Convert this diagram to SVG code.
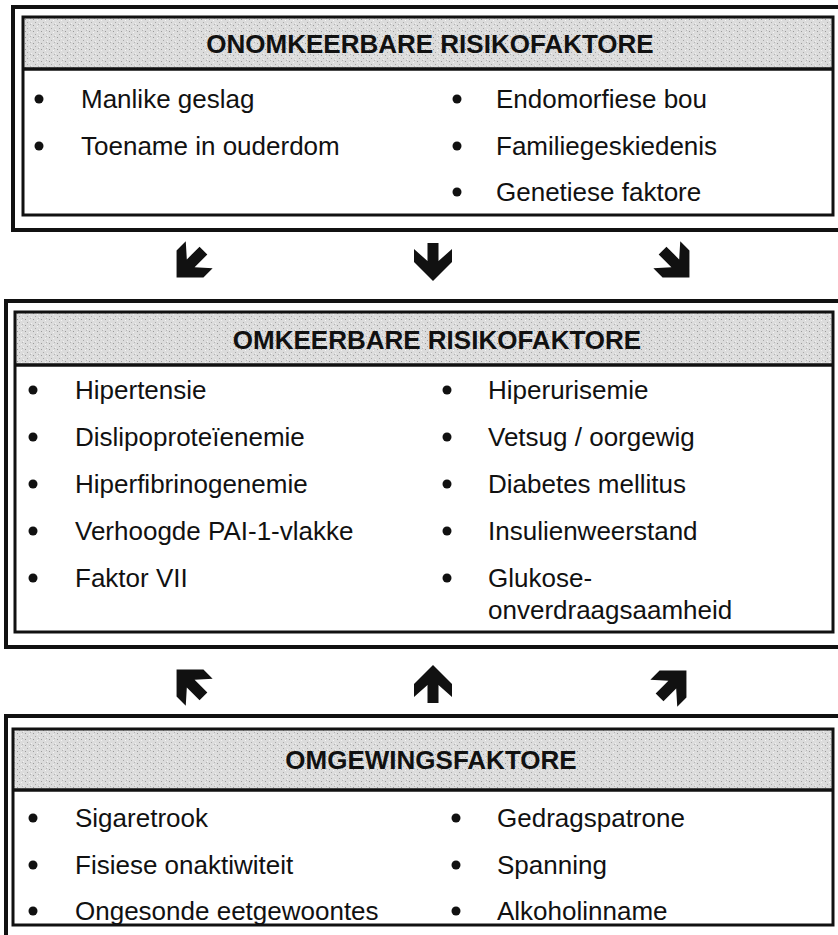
<svg xmlns="http://www.w3.org/2000/svg" width="838" height="935" viewBox="0 0 838 935">
  <style>
    .outer { fill: none; stroke: #111; stroke-width: 4; }
    .inner { fill: none; stroke: #111; stroke-width: 3; }
    .rule { stroke: #111; stroke-width: 3.5; }
    .band { fill: url(#stipple); }
    .head { font-family: "Liberation Sans", Arial, sans-serif; font-weight: bold; font-size: 26px; fill: #111; text-anchor: middle; }
    .item { font-family: "Liberation Sans", Arial, sans-serif; font-size: 26px; fill: #111; }
    .dot { fill: #111; }
    .arrow { fill: #111; }
  </style>
  <defs>
    <!-- halftone-like grey fill for the title bands -->
    <pattern id="stipple" width="8" height="6" patternUnits="userSpaceOnUse">
      <rect width="8" height="6" fill="#dcdcdc"/>
      <rect x="1" y="1" width="1" height="1" fill="#9a9a9a"/>
      <rect x="5" y="2" width="1" height="1" fill="#f4f4f4"/>
      <rect x="3" y="4" width="1" height="1" fill="#a8a8a8"/>
      <rect x="7" y="5" width="1" height="1" fill="#f0f0f0"/>
      <rect x="6" y="0" width="1" height="1" fill="#b5b5b5"/>
    </pattern>
    <!-- bold block arrow pointing down, centred on the origin -->
    <polygon id="blockArrow" points="-5.5,-19 5.5,-19 5.5,-1 19,-13 19,0 0,19 -19,0 -19,-13 -5.5,-1"/>
  </defs>

  <rect width="838" height="935" fill="#fff"/>

  <!-- Top box -->
  <g id="onomkeerbare">
    <rect class="outer" x="13" y="7" width="832" height="223"/>
    <rect class="band" x="23" y="17" width="810" height="52"/>
    <rect class="inner" x="23" y="17" width="810" height="198"/>
    <line class="rule" x1="23" y1="69" x2="833" y2="69"/>
    <text class="head" x="430" y="53">ONOMKEERBARE RISIKOFAKTORE</text>
    <circle class="dot" cx="39" cy="99" r="4.5"/>
    <text class="item" x="81" y="108">Manlike geslag</text>
    <circle class="dot" cx="39" cy="146" r="4.5"/>
    <text class="item" x="81" y="155">Toename in ouderdom</text>
    <circle class="dot" cx="457" cy="99" r="4.5"/>
    <text class="item" x="496" y="108">Endomorfiese bou</text>
    <circle class="dot" cx="457" cy="146" r="4.5"/>
    <text class="item" x="496" y="155">Familiegeskiedenis</text>
    <circle class="dot" cx="457" cy="192" r="4.5"/>
    <text class="item" x="496" y="201">Genetiese faktore</text>
  </g>

  <!-- Middle box -->
  <g id="omkeerbare">
    <rect class="outer" x="6" y="301" width="839" height="346"/>
    <rect class="band" x="15" y="312" width="818" height="53"/>
    <rect class="inner" x="15" y="312" width="818" height="320"/>
    <line class="rule" x1="15" y1="365" x2="833" y2="365"/>
    <text class="head" x="437" y="349">OMKEERBARE RISIKOFAKTORE</text>
    <circle class="dot" cx="33" cy="390" r="4.5"/>
    <text class="item" x="75" y="399">Hipertensie</text>
    <circle class="dot" cx="33" cy="437" r="4.5"/>
    <text class="item" x="75" y="446">Dislipoproteïenemie</text>
    <circle class="dot" cx="33" cy="484" r="4.5"/>
    <text class="item" x="75" y="493">Hiperfibrinogenemie</text>
    <circle class="dot" cx="33" cy="531" r="4.5"/>
    <text class="item" x="75" y="540">Verhoogde PAI-1-vlakke</text>
    <circle class="dot" cx="33" cy="578" r="4.5"/>
    <text class="item" x="75" y="587">Faktor VII</text>
    <circle class="dot" cx="447" cy="390" r="4.5"/>
    <text class="item" x="488" y="399">Hiperurisemie</text>
    <circle class="dot" cx="447" cy="437" r="4.5"/>
    <text class="item" x="488" y="446">Vetsug / oorgewig</text>
    <circle class="dot" cx="447" cy="484" r="4.5"/>
    <text class="item" x="488" y="493">Diabetes mellitus</text>
    <circle class="dot" cx="447" cy="531" r="4.5"/>
    <text class="item" x="488" y="540">Insulienweerstand</text>
    <circle class="dot" cx="447" cy="578" r="4.5"/>
    <text class="item" x="488" y="587">Glukose-</text>
    <text class="item" x="488" y="619">onverdraagsaamheid</text>
  </g>

  <!-- Bottom box -->
  <g id="omgewingsfaktore">
    <rect class="outer" x="6" y="716" width="839" height="230"/>
    <rect class="band" x="13" y="729" width="820" height="61"/>
    <rect class="inner" x="13" y="729" width="820" height="196"/>
    <line class="rule" x1="13" y1="790" x2="833" y2="790"/>
    <text class="head" x="431" y="769">OMGEWINGSFAKTORE</text>
    <circle class="dot" cx="33" cy="818" r="4.5"/>
    <text class="item" x="75" y="827">Sigaretrook</text>
    <circle class="dot" cx="33" cy="865" r="4.5"/>
    <text class="item" x="75" y="874">Fisiese onaktiwiteit</text>
    <circle class="dot" cx="33" cy="911" r="4.5"/>
    <text class="item" x="75" y="920">Ongesonde eetgewoontes</text>
    <circle class="dot" cx="456" cy="818" r="4.5"/>
    <text class="item" x="497" y="827">Gedragspatrone</text>
    <circle class="dot" cx="456" cy="865" r="4.5"/>
    <text class="item" x="497" y="874">Spanning</text>
    <circle class="dot" cx="456" cy="911" r="4.5"/>
    <text class="item" x="497" y="920">Alkoholinname</text>
  </g>

  <!-- Connectors: block arrows between the boxes -->
  <g id="connectors" class="arrow">
    <use href="#blockArrow" transform="translate(190,264) rotate(45)"/>
    <use href="#blockArrow" transform="translate(433,262)"/>
    <use href="#blockArrow" transform="translate(676,264) rotate(-45)"/>
    <use href="#blockArrow" transform="translate(190,683) rotate(135)"/>
    <use href="#blockArrow" transform="translate(433,684) rotate(180)"/>
    <use href="#blockArrow" transform="translate(673,684) rotate(-135)"/>
  </g>
</svg>
